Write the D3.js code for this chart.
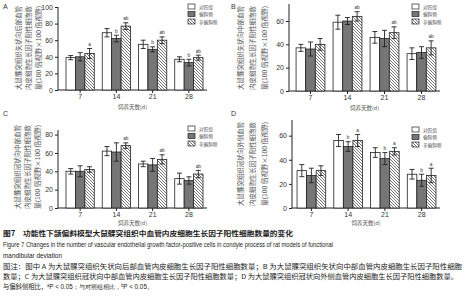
<!DOCTYPE html>
<html><head><meta charset="utf-8">
<script src="https://cdn.jsdelivr.net/npm/d3@7"></script>
<style>body{margin:0;background:#fff}svg{display:block}</style>
</head><body>
<script>
const days = ["7", "14", "21", "28"];
const groups = ["对照组", "偏斜侧", "非偏斜侧"];
const xTitle = "饲养天数(d)";

// means per day: [对照组, 偏斜侧, 非偏斜侧]
const aMean = [[39, 40, 44], [69, 62, 77], [55, 49, 60], [37, 33, 39]];
const aErr  = [[2.5, 5, 6], [5, 4, 4], [5, 3, 4], [3, 4, 3]];
const aSig  = [["", "", "a"], ["", "b", "ab"], ["", "b", "ab"], ["", "b", "ab"]];

const bMean = [[37, 36, 40], [59, 60, 64], [46, 45, 50], [32, 33, 37]];
const bErr  = [[3, 6, 5], [6, 3, 4], [5, 7, 5], [5, 5, 6]];
const bSig  = [["", "", ""], ["", "", "ab"], ["", "", "ab"], ["", "", "ab"]];

const cMean = [[40, 40, 42], [62, 61, 68], [48, 47, 53], [32, 30, 37]];
const cErr  = [[3, 6, 3], [5, 10, 3], [3, 7, 5], [6, 4, 4]];
const cSig  = [["", "", ""], ["", "", "ab"], ["", "", "ab"], ["", "", "ab"]];

const dMean = [[31, 27, 31], [56, 51, 56], [46, 41, 47], [28, 23, 27]];
const dErr  = [[5, 6, 4], [5, 4, 5], [4, 5, 3], [4, 5, 6]];
const dSig  = [["", "", ""], ["", "b", "a"], ["", "b", "a"], ["", "b", "a"]];

const aTicks = [0, 20, 40, 60, 80, 100];
const bTicks = [0, 20, 40, 60];
const cTicks = [0, 20, 40, 60, 80];
const dTicks = [0, 20, 40, 60];

const aYLabel = ["大鼠髁突组织矢状向后部血管", "内皮细胞生长因子阳性细胞数", "量(100 倍视野×100 倍视野)"];
const bYLabel = ["大鼠髁突组织矢状向中部血管", "内皮细胞生长因子阳性细胞数", "量(100 倍视野×100 倍视野)"];
const cYLabel = ["大鼠髁突组织冠状向中部血管", "内皮细胞生长因子阳性细胞数", "量(100 倍视野×100 倍视野)"];
const dYLabel = ["大鼠髁突组织冠状向外侧血管", "内皮细胞生长因子阳性细胞数", "量(100 倍视野×100 倍视野)"];

const W = 465, H = 300;
const svg = d3.select("body").append("svg").attr("width", W).attr("height", H)
  .style("font-family", "'Liberation Sans', Arial, sans-serif");

const defs = svg.append("defs");
const pat = defs.append("pattern").attr("id", "hatch").attr("patternUnits", "userSpaceOnUse")
  .attr("width", 3).attr("height", 3);
pat.append("rect").attr("width", 3).attr("height", 3).attr("fill", "#fff");
pat.append("path").attr("d", "M-1,-1 L4,4 M-1,2 L1,4 M2,-1 L4,1").attr("stroke", "#666").attr("stroke-width", 0.9);

const fills = ["#fff", "#767676", "url(#hatch)"];
const cjk = "'Noto Sans CJK SC', sans-serif";

const panels = [
  {letter: "A", lx: 3, ly: 9, axX: 58, xr: [62, 207], y0: 90, yTop: 7, max: 100, ticks: aTicks, mean: aMean, err: aErr, sig: aSig, ylab: aYLabel, ylx: [21, 31, 41], yc: 48, legX: 188, legY: 4, xtY: 109},
  {letter: "B", lx: 231, ly: 9, axX: 289, xr: [292, 440], y0: 91, yTop: 4, max: 74.6, ticks: bTicks, mean: bMean, err: bErr, sig: bSig, ylab: bYLabel, ylx: [243, 255, 267], yc: 48, legX: 412, legY: 4, xtY: 110},
  {letter: "C", lx: 3, ly: 116, axX: 58, xr: [62, 207], y0: 208, yTop: 130, max: 85, ticks: cTicks, mean: cMean, err: cErr, sig: cSig, ylab: cYLabel, ylx: [20, 30, 40], yc: 167, legX: 188, legY: 126, xtY: 225},
  {letter: "D", lx: 231, ly: 116, axX: 292, xr: [293, 440], y0: 208, yTop: 120, max: 73, ticks: dTicks, mean: dMean, err: dErr, sig: dSig, ylab: dYLabel, ylx: [243, 255, 267], yc: 164, legX: 412, legY: 127, xtY: 225}
];

panels.forEach(p => {
  const g = svg.append("g");
  g.append("text").attr("x", p.lx).attr("y", p.ly).attr("font-size", 7).attr("fill", "#333").text(p.letter);

  const x = d3.scaleBand().domain(days).range(p.xr).paddingInner(0.22).paddingOuter(0.11);
  const xs = d3.scaleBand().domain(d3.range(3)).range([0, x.bandwidth()]);
  const y = d3.scaleLinear().domain([0, p.max]).range([p.y0, p.yTop]);

  const ya = d3.axisLeft(y).tickValues(p.ticks).tickSize(3).tickPadding(2);
  const yg = g.append("g").attr("transform", `translate(${p.axX},0)`).call(ya);
  yg.select(".domain").attr("d", `M0,${p.yTop}V${p.y0}`);
  const xa = d3.axisBottom(x).tickSize(3).tickPadding(1);
  const xg = g.append("g").attr("transform", `translate(0,${p.y0})`).call(xa);
  xg.select(".domain").attr("d", `M${p.axX},0H${p.xr[1]}`);
  [yg, xg].forEach(a => {
    a.selectAll("path,line").attr("stroke", "#222").attr("stroke-width", 1);
    a.selectAll("text").attr("font-size", 7).attr("fill", "#333").attr("font-family", "'Liberation Sans', Arial, sans-serif");
  });

  p.mean.forEach((vals, i) => {
    vals.forEach((v, j) => {
      const bx = x(days[i]) + xs(j);
      const bw = xs.bandwidth();
      g.append("rect").attr("x", bx).attr("y", y(v)).attr("width", bw).attr("height", p.y0 - y(v))
        .attr("fill", fills[j]).attr("stroke", "#222").attr("stroke-width", 0.8);
      const cx = bx + bw / 2, e = p.err[i][j];
      g.append("path").attr("d", `M${cx},${y(v + e)}V${y(v - e)}M${cx - 2.5},${y(v + e)}h5M${cx - 2.5},${y(v - e)}h5`)
        .attr("stroke", "#222").attr("stroke-width", 0.9).attr("fill", "none");
      const s = p.sig[i][j];
      if (s) g.append("text").attr("x", cx).attr("y", y(v + e) - 2.5).attr("text-anchor", "middle")
        .attr("font-size", 4.8).attr("fill", "#333").text(s);
    });
  });

  groups.forEach((gn, j) => {
    const ly = p.legY + j * 7.5;
    g.append("rect").attr("x", p.legX).attr("y", ly).attr("width", 7).attr("height", 5)
      .attr("fill", fills[j]).attr("stroke", "#222").attr("stroke-width", 0.7);
    g.append("text").attr("x", p.legX + 11).attr("y", ly + 4.5).attr("font-size", 4.6)
      .attr("font-family", cjk).attr("fill", "#555").text(gn);
  });

  p.ylab.forEach((t, k) => {
    g.append("text").attr("transform", `translate(${p.ylx[k]},${p.yc}) rotate(-90)`)
      .attr("text-anchor", "middle").attr("font-size", 6.3).attr("font-family", cjk).attr("fill", "#555")
      .attr("textLength", 84).attr("lengthAdjust", "spacingAndGlyphs").text(t);
  });

  g.append("text").attr("x", (p.axX + p.xr[1]) / 2).attr("y", p.xtY).attr("text-anchor", "middle")
    .attr("font-size", 5.5).attr("font-family", cjk).attr("fill", "#555").text(xTitle);
});

const cap = svg.append("g").attr("font-family", cjk).attr("fill", "#222");
cap.append("text").attr("x", 3).attr("y", 236).attr("font-size", 7).attr("font-weight", "bold")
  .attr("textLength", 290).attr("lengthAdjust", "spacingAndGlyphs")
  .text("图7　功能性下颌偏斜模型大鼠髁突组织中血管内皮细胞生长因子阳性细胞数量的变化");
cap.append("text").attr("x", 3).attr("y", 247).attr("font-size", 6.4).attr("font-family", "'Liberation Sans', Arial, sans-serif")
  .attr("textLength", 330).attr("lengthAdjust", "spacingAndGlyphs")
  .text("Figure 7    Changes in the number of vascular endothelial growth factor-positive cells in condyle process of rat models of functional");
cap.append("text").attr("x", 3).attr("y", 258).attr("font-size", 6.4).attr("font-family", "'Liberation Sans', Arial, sans-serif")
  .text("mandibular deviation");
cap.append("text").attr("x", 3).attr("y", 269).attr("font-size", 6.3)
  .attr("textLength", 459).attr("lengthAdjust", "spacingAndGlyphs")
  .text("图注：图中 A 为大鼠髁突组织矢状向后部血管内皮细胞生长因子阳性细胞数量；B 为大鼠髁突组织矢状向中部血管内皮细胞生长因子阳性细胞");
cap.append("text").attr("x", 3).attr("y", 279).attr("font-size", 6.3)
  .attr("textLength", 455).attr("lengthAdjust", "spacingAndGlyphs")
  .text("数量；C 为大鼠髁突组织冠状向中部血管内皮细胞生长因子阳性细胞数量；D 为大鼠髁突组织冠状向外侧血管内皮细胞生长因子阳性细胞数量。");
const l3 = cap.append("text").attr("x", 3).attr("y", 289).attr("font-size", 6.3);
l3.append("tspan").text("与偏斜侧相比，");
l3.append("tspan").attr("font-size", 4).attr("dy", -2).text("a");
l3.append("tspan").attr("dy", 2).attr("font-family", "'Liberation Sans', Arial, sans-serif").text("P < 0.05；与对照组相比，");
l3.append("tspan").attr("font-size", 4).attr("dy", -2).text("b");
l3.append("tspan").attr("dy", 2).attr("font-family", "'Liberation Sans', Arial, sans-serif").text("P < 0.05。");
</script>
</body></html>
